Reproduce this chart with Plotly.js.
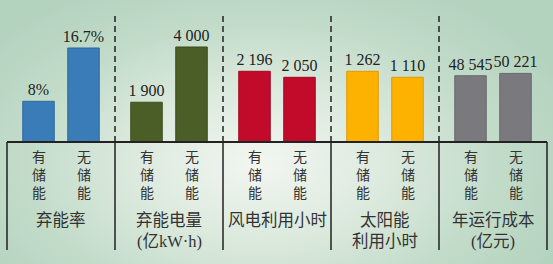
<!DOCTYPE html>
<html><head><meta charset="utf-8">
<script src="https://cdn.plot.ly/plotly-3.0.1.min.js"></script>
<style>
html,body{margin:0;padding:0;background:#b6d4c0;}
#chart{width:553px;height:264px;
background:radial-gradient(ellipse 60% 75% at 47% 62%, #f2f6f1 0%, #dbe9dd 40%, #c3dcca 70%, #b4d3bf 100%);}
</style></head><body><div id="chart"></div>
<script>
// ---- data ----
const groupNames = ['弃能率', '弃能电量<br>(亿kW·h)', '风电利用小时', '太阳能<br>利用小时', '年运行成本<br>(亿元)'];
const categories = ['有储能', '无储能'];
const curtailRate = [8, 16.7];          // %
const curtailEnergy = [1900, 4000];     // 亿kW·h
const windHours = [2196, 2050];
const solarHours = [1262, 1110];
const annualCost = [48545, 50221];      // 亿元
const seriesValues = [curtailRate, curtailEnergy, windHours, solarHours, annualCost];
const barColors = ['#3a7cb8', '#4b5e27', '#c20a2a', '#fdb100', '#7a7a7e'];
const lineColors = ['#2f6aa0', '#3c4c1e', '#a00822', '#e09a00', '#6a6a6e'];

// per-group value axis ranges (layout)
const yRanges = [[1.36, 24.53], [389, 5786], [480, 3926], [-525, 3064], [0, 103972]];

function fmt(g, v) {
  if (g === 0) return v + '%';
  return String(v).replace(/\B(?=(\d{3})+(?!\d))/g, ' ');
}

const serif = {family: '"Liberation Serif", "Times New Roman", serif', size: 16, color: '#222'};
const cjk = '"Liberation Serif", "Noto Sans CJK SC", sans-serif';
const traces = [];
const layout = {
  width: 553, height: 264,
  margin: {l: 7, r: 6, t: 0, b: 122, pad: 0},
  paper_bgcolor: 'rgba(0,0,0,0)',
  plot_bgcolor: 'rgba(0,0,0,0)',
  showlegend: false,
  shapes: [], annotations: []
};

seriesValues.forEach((vals, g) => {
  const n = g + 1;
  const xa = n === 1 ? 'x' : 'x' + n;
  const ya = n === 1 ? 'y' : 'y' + n;
  const base = yRanges[g][0];
  traces.push({
    type: 'bar', xaxis: xa, yaxis: ya,
    x: categories,
    y: vals.map(v => v - base),
    base: base,
    width: 0.7,
    marker: {color: barColors[g], line: {color: lineColors[g], width: 1}},
    text: vals.map(v => fmt(g, v)),
    textposition: 'outside',
    constraintext: 'none',
    cliponaxis: false,
    textfont: serif,
    outsidetextfont: serif,
    hoverinfo: 'none'
  });
  const xKey = n === 1 ? 'xaxis' : 'xaxis' + n;
  const yKey = n === 1 ? 'yaxis' : 'yaxis' + n;
  layout[xKey] = {domain: [g * 0.2, (g + 1) * 0.2], anchor: ya, type: 'category',
    range: [-0.7, 1.7], showticklabels: false, ticks: '', showgrid: false, zeroline: false, showline: false, fixedrange: true};
  layout[yKey] = {domain: [0, 1], anchor: xa, range: yRanges[g], visible: false, fixedrange: true};

  // category labels, written vertically
  categories.forEach(cat => {
    layout.annotations.push({xref: xa, yref: 'paper', x: cat, y: 0, yshift: -33.5,
      text: Array.from(cat).join('<br>'), showarrow: false, xanchor: 'center', yanchor: 'middle',
      font: {family: cjk, size: 14, color: '#333'}});
  });
  // group label lines
  groupNames[g].split('<br>').forEach((line, i) => {
    layout.annotations.push({xref: 'paper', yref: 'paper', x: g * 0.2 + 0.1, y: 0, yshift: -78 - i * 21.5,
      text: line, showarrow: false, xanchor: 'center', yanchor: 'middle',
      font: {family: cjk, size: 16.5, color: '#333'}});
  });
});

// baseline
layout.shapes.push({type: 'line', xref: 'paper', yref: 'paper', x0: 0, x1: 1, y0: 0, y1: 0,
  line: {color: '#222', width: 2}});
// solid separators below the baseline
[0, 0.2, 0.4, 0.6, 0.8, 1].forEach(x => {
  layout.shapes.push({type: 'line', xref: 'paper', yref: 'paper', x0: x, x1: x, y0: 0, y1: -108 / 142,
    line: {color: '#222', width: 1.5}});
});
// dashed separators above the baseline
[0.2, 0.4, 0.6, 0.8].forEach(x => {
  layout.shapes.push({type: 'line', xref: 'paper', yref: 'paper', x0: x, x1: x, y0: 0, y1: 129 / 142,
    line: {color: '#222', width: 1.5, dash: '6px,4px'}});
});

Plotly.newPlot('chart', traces, layout, {staticPlot: true, displayModeBar: false});
</script></body></html>
